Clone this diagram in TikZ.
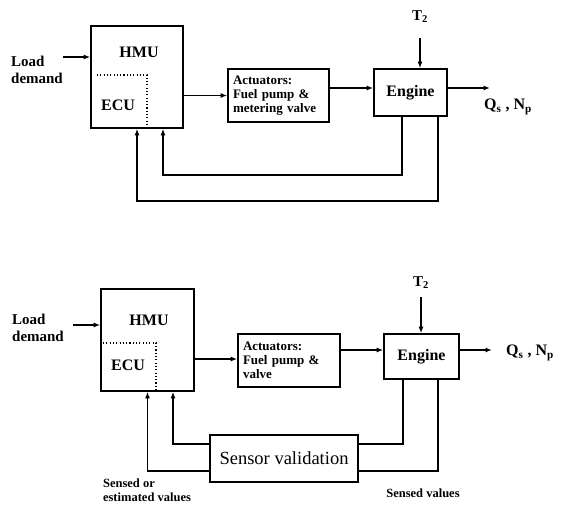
\documentclass[tikz,border=0pt]{standalone}
\usepackage{fontspec}
\setmainfont{Liberation Serif}
\usetikzlibrary{arrows.meta,positioning}

\begin{document}
\begin{tikzpicture}[x=1pt, y=-1pt,
  box/.style={draw, line width=1.6pt, inner sep=0pt, align=left},
  txt/.style={font=\bfseries\fontsize{16}{17}\selectfont, inner sep=0pt, align=left},
  small/.style={font=\bfseries\fontsize{12.5}{14}\selectfont, inner sep=0pt, align=left},
  arr/.style={-{Latex[length=6.5pt,width=5pt]}, line width=1.3pt},
  wire/.style={line width=1.3pt},
  ecu/.style={line width=1.3pt, dash pattern=on 1.1pt off 2.2pt}
]
  \useasboundingbox (0,0) rectangle (562,505);

  % upper loop
  \node[box, minimum width=92pt, minimum height=102pt] (hmu1) at (137,77) {};
  \node[txt] (hmutxt1) at (139,52) {HMU};
  \node[txt] (ecutxt1) at (118,105) {ECU};
  \draw[ecu] (97,75) -- (147,75) -- (147,128);
  \node[box, minimum width=101pt, minimum height=53pt, text width=91pt,
        font=\bfseries\fontsize{13}{14}\selectfont] (act1) at (278.5,95.5)
        {Actuators:\\Fuel pump \&\\metering valve};
  \node[box, minimum width=73pt, minimum height=47pt, font=\bfseries\fontsize{16}{17}\selectfont] (eng1) at (410.5,92.5) {Engine};
  \node[txt, font=\bfseries\fontsize{15}{17}\selectfont] (load1) at (37,70) {Load\\demand};
  \node[txt, font=\bfseries\fontsize{15}{17}\selectfont] (temp1) at (420,17) {T\textsubscript{2}};
  \node[txt] (out1) at (508,107) {Q\textsubscript{s} , N\textsubscript{p}};

  \coordinate (in1) at (63,57);
  \coordinate (to1) at (420,38);
  \coordinate (res1) at (490,88);
  \coordinate (fb1) at (402,175);
  \coordinate (fb2) at (438,201);

  \draw[arr] (in1) -- (in1 -| hmu1.west);
  \draw[arr] (hmu1.east |- act1.west) -- (act1.west);
  \draw[arr] (act1.east |- res1) -- (eng1.west |- res1);
  \draw[arr] (eng1.east |- res1) -- (res1);
  \draw[arr] (to1) -- (to1 |- eng1.north);
  \draw[arr] (eng1.south -| fb1) -- (fb1) -| ([xshift=26pt]hmu1.south);
  \draw[arr] (eng1.south -| fb2) -- (fb2) -| (hmu1.south);

  % lower loop
  \node[box, minimum width=93pt, minimum height=102pt] (hmu2) at (147.5,340) {};
  \node[txt] (hmutxt2) at (149,320) {HMU};
  \node[txt] (ecutxt2) at (128,365) {ECU};
  \draw[ecu] (103,343) -- (156,343) -- (156,391);
  \node[box, minimum width=102pt, minimum height=53pt, text width=92pt,
        font=\bfseries\fontsize{13}{14}\selectfont] (act2) at (289,360.5)
        {Actuators:\\Fuel pump \&\\valve};
  \node[box, minimum width=75pt, minimum height=45pt, font=\bfseries\fontsize{16}{17}\selectfont] (eng2) at (421.5,356.5) {Engine};
  \node[box, minimum width=148pt, minimum height=47pt, font=\rmfamily\fontsize{18.5}{20}\selectfont] (sens) at (284,458.5) {Sensor validation};
  \node[txt, font=\bfseries\fontsize{15}{17}\selectfont] (load2) at (38,328) {Load\\demand};
  \node[txt, font=\bfseries\fontsize{15}{17}\selectfont] (temp2) at (421,283) {T\textsubscript{2}};
  \node[txt] (out2) at (530,353) {Q\textsubscript{s} , N\textsubscript{p}};
  \node[small] (lab1) at (147,490) {Sensed or\\estimated values};
  \node[small] (lab2) at (423,493) {Sensed values};

  \coordinate (in2) at (73,325);
  \coordinate (to2) at (421,297);
  \coordinate (res2) at (492,350);
  \coordinate (fb3) at (403,444);
  \coordinate (fb4) at (438,471);

  \draw[arr] (in2) -- (in2 -| hmu2.west);
  \draw[arr] (hmu2.east |- 0,359) -- (act2.west |- 0,359);
  \draw[arr] (act2.east |- res2) -- (eng2.west |- res2);
  \draw[arr] (eng2.east |- res2) -- (res2);
  \draw[arr] (to2) -- (to2 |- eng2.north);
  \draw[wire] (eng2.south -| fb3) -- (fb3) -- (sens.east |- fb3);
  \draw[wire] (eng2.south -| fb4) -- (fb4) -- (sens.east |- fb4);
  \draw[arr] (sens.west |- fb3) -| ([xshift=25.5pt]hmu2.south);
  \draw[arr] (sens.west |- fb4) -| (hmu2.south);
\end{tikzpicture}
\end{document}
